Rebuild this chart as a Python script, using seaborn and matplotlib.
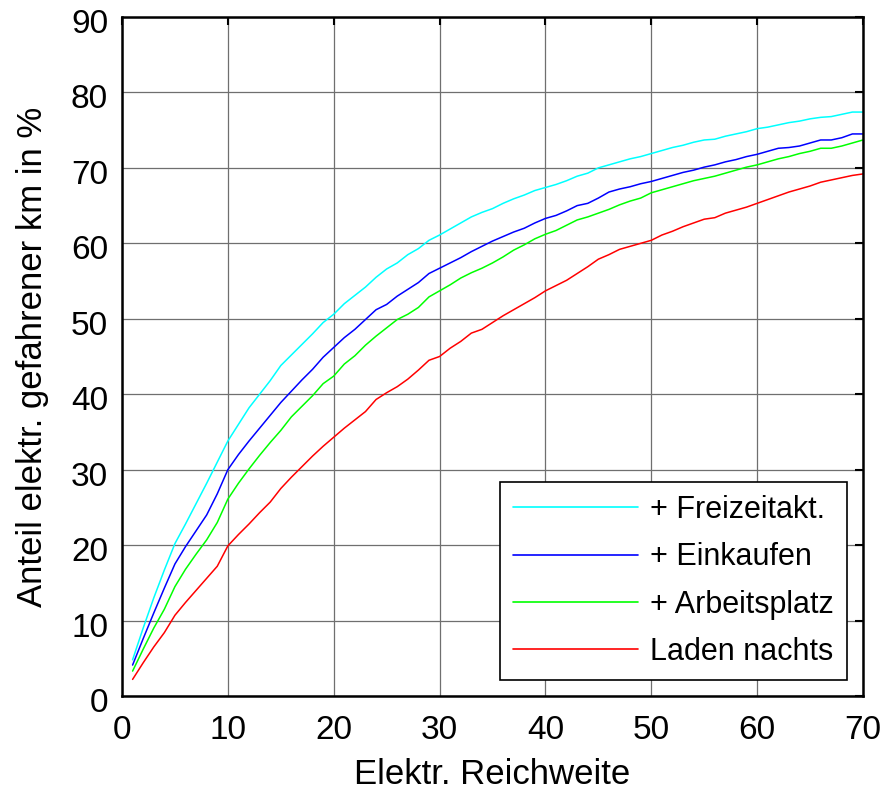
import numpy as np
import pandas as pd
import matplotlib
matplotlib.use("Agg")
import matplotlib.pyplot as plt
import matplotlib.transforms as mtransforms
import seaborn as sns

reichweite = list(range(1, 71))

freizeit = [4.8, 9.0, 13.0, 16.7, 20.2, 22.8, 25.5, 28.2, 31.0, 33.8,
            36.0, 38.2, 40.0, 41.8, 43.8, 45.2, 46.6, 48.0, 49.5, 50.6,
            52.0, 53.1, 54.2, 55.5, 56.6, 57.4, 58.5, 59.3, 60.4, 61.1,
            61.9, 62.7, 63.5, 64.1, 64.6, 65.3, 65.9, 66.4, 67.0, 67.4,
            67.8, 68.3, 68.9, 69.3, 70.0, 70.4, 70.8, 71.2, 71.5, 71.9,
            72.3, 72.7, 73.0, 73.4, 73.7, 73.8, 74.2, 74.5, 74.8, 75.2,
            75.4, 75.7, 76.0, 76.2, 76.5, 76.7, 76.8, 77.1, 77.4, 77.4]

einkaufen = [4.1, 7.6, 11.0, 14.3, 17.5, 19.8, 21.9, 24.0, 26.8, 30.0,
             32.0, 33.8, 35.5, 37.2, 38.9, 40.4, 41.9, 43.3, 44.9, 46.2,
             47.5, 48.6, 49.9, 51.2, 51.9, 53.0, 53.9, 54.8, 56.0, 56.7,
             57.4, 58.1, 58.9, 59.6, 60.3, 60.9, 61.5, 62.0, 62.7, 63.3,
             63.7, 64.3, 65.0, 65.3, 66.0, 66.8, 67.2, 67.5, 67.9, 68.2,
             68.6, 69.0, 69.4, 69.7, 70.1, 70.4, 70.8, 71.1, 71.5, 71.8,
             72.2, 72.6, 72.7, 72.9, 73.3, 73.7, 73.7, 74.0, 74.5, 74.5]

arbeitsplatz = [3.3, 6.2, 9.0, 11.5, 14.5, 16.8, 18.8, 20.7, 23.0, 26.1,
                28.2, 30.1, 31.9, 33.6, 35.2, 37.0, 38.4, 39.8, 41.4, 42.4,
                44.0, 45.1, 46.5, 47.7, 48.8, 49.9, 50.6, 51.5, 52.9, 53.7,
                54.5, 55.4, 56.1, 56.7, 57.4, 58.2, 59.1, 59.8, 60.6, 61.2,
                61.7, 62.4, 63.1, 63.5, 64.0, 64.5, 65.1, 65.6, 66.0, 66.7,
                67.1, 67.5, 67.9, 68.3, 68.6, 68.9, 69.3, 69.7, 70.1, 70.4,
                70.8, 71.2, 71.5, 71.9, 72.2, 72.6, 72.6, 72.9, 73.3, 73.7]

laden_nachts = [2.2, 4.4, 6.5, 8.4, 10.7, 12.4, 14.0, 15.6, 17.2, 19.9,
                21.4, 22.8, 24.3, 25.7, 27.5, 29.0, 30.4, 31.8, 33.1, 34.3,
                35.5, 36.6, 37.7, 39.3, 40.2, 41.0, 42.0, 43.2, 44.5, 45.0,
                46.1, 47.0, 48.1, 48.6, 49.5, 50.4, 51.2, 52.0, 52.8, 53.7,
                54.4, 55.1, 56.0, 56.9, 57.9, 58.5, 59.2, 59.6, 60.0, 60.4,
                61.1, 61.6, 62.2, 62.7, 63.2, 63.4, 64.0, 64.4, 64.8, 65.3,
                65.8, 66.3, 66.8, 67.2, 67.6, 68.1, 68.4, 68.7, 69.0, 69.2]

series_names = ["+ Freizeitakt.", "+ Einkaufen", "+ Arbeitsplatz", "Laden nachts"]
series_values = [freizeit, einkaufen, arbeitsplatz, laden_nachts]
series_colors = ["#00ffff", "#0000ff", "#00ff00", "#ff0000"]

x_ticks = [0, 10, 20, 30, 40, 50, 60, 70]
y_ticks = [0, 10, 20, 30, 40, 50, 60, 70, 80, 90]

rows = []
for name, vals in zip(series_names, series_values):
    for xv, yv in zip(reichweite, vals):
        rows.append({"Reichweite": xv, "Anteil": yv, "Serie": name})
df = pd.DataFrame(rows)

sns.set_style("white")
plt.rcParams["font.family"] = ["Liberation Sans", "DejaVu Sans"]
plt.rcParams["text.color"] = "black"
plt.rcParams["axes.labelcolor"] = "black"

fig = plt.figure(figsize=(8.84, 7.92), dpi=100)
ax = fig.add_axes([122 / 884, 1 - 696 / 792, (863 - 122) / 884, (696 - 17) / 792])

sns.lineplot(data=df, x="Reichweite", y="Anteil", hue="Serie",
             hue_order=series_names, palette=dict(zip(series_names, series_colors)),
             linewidth=1.1, ax=ax, legend=True)

ax.set_xlim(0, 70)
ax.set_ylim(0, 90)
ax.set_xticks(x_ticks)
ax.set_yticks(y_ticks)
ax.grid(True, color="#6f6f6f", linewidth=0.9)
ax.set_axisbelow(True)
for sp in ax.spines.values():
    sp.set_visible(True)
    sp.set_color("black")
    sp.set_linewidth(1.8)
ax.tick_params(direction="in", top=True, right=True, length=6, width=1.5,
               labelsize=24, colors="black")
ax.tick_params(axis="x", pad=14)
ax.tick_params(axis="y", pad=10)
offset = mtransforms.ScaledTranslation(0, -4 / 100, fig.dpi_scale_trans)
for lab in ax.get_yticklabels():
    lab.set_transform(lab.get_transform() + offset)

ax.set_xlabel("Elektr. Reichweite", fontsize=25, labelpad=8, color="black")
ax.set_ylabel("Anteil elektr. gefahrener km in %", fontsize=25, labelpad=16, color="black")

leg = ax.legend(loc="lower right", bbox_to_anchor=(0.978, 0.0236),
                fontsize=22, frameon=True, fancybox=False, framealpha=1,
                edgecolor="black", handlelength=4.1, handletextpad=0.4,
                labelspacing=0.57, borderpad=0.42, borderaxespad=0)
leg.get_frame().set_linewidth(1.2)
for line in leg.get_lines():
    line.set_linewidth(1.2)
for t in leg.get_texts():
    t.set_color("black")

fig.savefig("out.png", dpi=100, facecolor="white")
